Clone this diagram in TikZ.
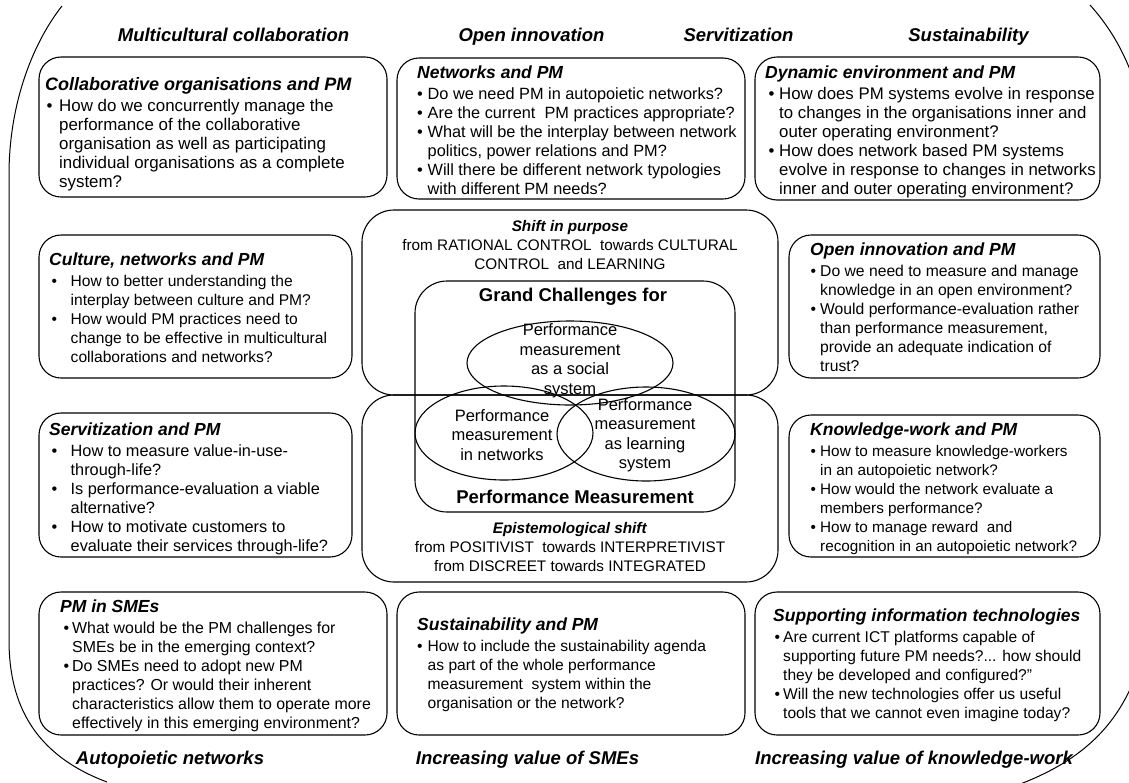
\documentclass[tikz,border=0pt]{standalone}
\usepackage{fontspec}
\setmainfont{Liberation Sans}
\usetikzlibrary{shapes.geometric}
\newlength\bA \newlength\bW
\newcommand\bu{\hspace*{\bA}\makebox[\bW][l]{•}}
\newcommand\bc{\hspace*{\bA}\hspace*{\bW}}
\newcommand\ttl[1]{{\fontsize{17.5}{19}\selectfont\bfseries\itshape #1}}
\tikzset{
  box/.style={draw, line width=1.1pt, rounded corners=22pt},
  cbox/.style={draw, line width=1.1pt, rounded corners=32pt},
  frame/.style={draw, line width=1pt},
  txt/.style n args={3}{anchor=north west, inner sep=0pt, align=left,
    font=\fontsize{#3}{19}\selectfont\setlength\bA{#1}\setlength\bW{#2}},
  hdr/.style={font=\fontsize{18.5}{20}\selectfont\bfseries\itshape, inner sep=0pt, anchor=base},
  ell/.style={draw, ellipse, line width=1.1pt, inner sep=0pt},
  etxt/.style={align=center, inner sep=0pt, font=\fontsize{16.5}{19.5}\selectfont},
  ctxt/.style={align=center, inner sep=0pt, font=\fontsize{15.3}{19}\selectfont},
  big/.style={inner sep=0pt, font=\fontsize{18.5}{20}\selectfont\bfseries},
}
\begin{document}
\begin{tikzpicture}[x=1pt,y=-1pt]
\useasboundingbox (0,0) rectangle (1129,782);
\fill[white] (0,0) rectangle (1129,782);
% outer frame
\begin{scope}
\clip (0,0) rectangle (1129,782);
\draw[frame] (62,6) .. controls (35,40) and (9,100) .. (9,175) -- (9,640)
  .. controls (9,705) and (35,755) .. (107,782);
\draw[frame] (1090,5) .. controls (1108,25) and (1122,48) .. (1132,75);
\draw[frame] (1132,685) .. controls (1110,735) and (1072,765) .. (1015,786);
\end{scope}
% column headers
\node[hdr] (h1) at (233.5,41.5) {Multicultural collaboration};
\node[hdr] (h2) at (531.5,41.5) {Open innovation};
\node[hdr] (h3) at (738.5,41.5) {Servitization};
\node[hdr] (h4) at (968.5,41.5) {Sustainability};
\node[hdr] (f1) at (170,764.5) {Autopoietic networks};
\node[hdr] (f2) at (527.5,764.5) {Increasing value of SMEs};
\node[hdr] (f3) at (914,764.5) {Increasing value of knowledge-work};
% boxes
\draw[box] (39,57) rectangle (387,197);
\draw[box] (397,58) rectangle (745,199);
\draw[box] (755,57) rectangle (1100,200);
\draw[box] (39,235) rectangle (352,378);
\draw[box] (789,235) rectangle (1100,378);
\draw[box] (39,413) rectangle (352,557);
\draw[box] (789,415) rectangle (1100,557);
\draw[box] (39,592) rectangle (387,735);
\draw[box] (397,592) rectangle (745,735);
\draw[box] (755,592) rectangle (1100,735);
% centre
\draw[cbox] (362,210) rectangle (778,395);
\draw[cbox] (362,395) rectangle (778,582);
\draw[cbox] (415,281) rectangle (735,512);
\node[ell, minimum width=206pt, minimum height=84pt] (e1) at (570,363) {};
\node[ell, minimum width=178pt, minimum height=94pt] (e2) at (504,433) {};
\node[ell, minimum width=178pt, minimum height=94pt] (e3) at (646,434) {};
\node[ctxt] (sp) at (570,245.5) {\textbf{\textit{Shift in purpose}}\\ from RATIONAL CONTROL\ \ towards CULTURAL\\ CONTROL\ \ and LEARNING};
\node[big] (gc) at (573,297) {Grand Challenges for};
\node[etxt] (et1) at (570,360.5) {Performance\\ measurement\\ as a social\\ system};
\node[etxt] (et2) at (502,435) {Performance\\ measurement\\ in networks};
\node[etxt] (et3) at (645,435) {Performance\\ measurement\\ as learning\\ system};
\node[big] (pm) at (575,497) {Performance Measurement};
\node[ctxt] (es) at (570,547) {\textbf{\textit{Epistemological shift}}\\ from POSITIVIST\ \ towards INTERPRETIVIST\\ from DISCREET towards INTEGRATED};
% box texts
\node[txt={1.5pt}{12.5pt}{16.9}] (t1) at (45,77.5) {{\fontsize{18}{19}\selectfont\bfseries\itshape Collaborative organisations and PM}\\[2pt]
\bu How do we concurrently manage the\\
\bc performance of the collaborative\\
\bc organisation as well as participating\\
\bc individual organisations as a complete\\
\bc system?};
\node[txt={0pt}{10.5pt}{16.3}] (t2) at (417,66) {\ttl{Networks and PM}\\[2pt]
\bu Do we need PM in autopoietic networks?\\
\bu Are the current\ \ PM practices appropriate?\\
\bu What will be the interplay between network\\
\bc politics, power relations and PM?\\
\bu Will there be different network typologies\\
\bc with different PM needs?};
\node[txt={3.5pt}{10.5pt}{16.8}] (t3) at (765,66) {\ttl{Dynamic environment and PM}\\[2pt]
\bu How does PM systems evolve in response\\
\bc to changes in the organisations inner and\\
\bc outer operating environment?\\
\bu How does network based PM systems\\
\bc evolve in response to changes in networks\\
\bc inner and outer operating environment?};
\node[txt={2.5pt}{19pt}{15.6}] (t4) at (49,253) {\ttl{Culture, networks and PM}\\[2pt]
\bu How to better understanding the\\
\bc interplay between culture and PM?\\
\bu How would PM practices need to\\
\bc change to be effective in multicultural\\
\bc collaborations and networks?};
\node[txt={0.5pt}{9.5pt}{15.7}] (t6) at (810,243) {\ttl{Open innovation and PM}\\[2pt]
\bu Do we need to measure and manage\\
\bc knowledge in an open environment?\\
\bu Would performance-evaluation rather\\
\bc than performance measurement,\\
\bc provide an adequate indication of\\
\bc trust?};
\node[txt={2.5pt}{19pt}{16.3}] (t7) at (49,423) {\ttl{Servitization and PM}\\[2pt]
\bu How to measure value-in-use-\\
\bc through-life?\\
\bu Is performance-evaluation a viable\\
\bc alternative?\\
\bu How to motivate customers to\\
\bc evaluate their services through-life?};
\node[txt={0.5pt}{9.5pt}{15.3}] (t8) at (810,423) {\ttl{Knowledge-work and PM}\\[2pt]
\bu How to measure knowledge-workers\\
\bc in an autopoietic network?\\
\bu How would the network evaluate a\\
\bc members performance?\\
\bu How to manage reward\ \ and\\
\bc recognition in an autopoietic network?};
\node[txt={3.5pt}{8.5pt}{15.9}] (t10) at (60,600) {\ttl{PM in SMEs}\\[2pt]
\bu What would be the PM challenges for\\
\bc SMEs be in the emerging context?\\
\bu Do SMEs need to adopt new PM\\
\bc practices? Or would their inherent\\
\bc characteristics allow them to operate more\\
\bc effectively in this emerging environment?};
\node[txt={0pt}{10.5pt}{15.6}] (t11) at (417,618) {\ttl{Sustainability and PM}\\[2pt]
\bu How to include the sustainability agenda\\
\bc as part of the whole performance\\
\bc measurement\ \ system within the\\
\bc organisation or the network?};
\node[txt={1.5pt}{8.5pt}{15.6}] (t12) at (773,609) {\ttl{Supporting information technologies}\\[2pt]
\bu Are current ICT platforms capable of\\
\bc supporting future PM needs?... how should\\
\bc they be developed and configured?”\\
\bu Will the new technologies offer us useful\\
\bc tools that we cannot even imagine today?};
\end{tikzpicture}
\end{document}
